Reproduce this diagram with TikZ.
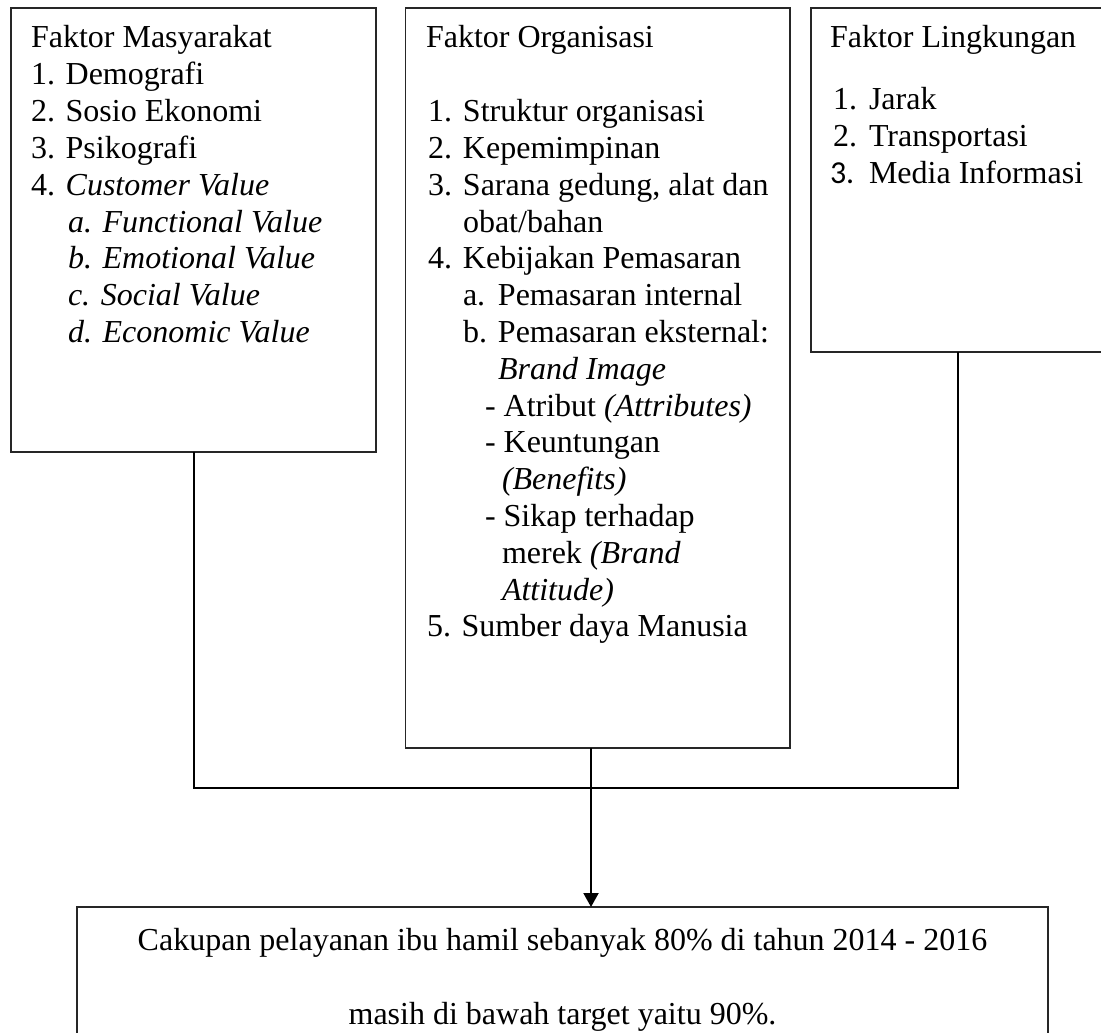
\documentclass[tikz,border=0pt]{standalone}
\usepackage{fontspec}
\setmainfont{Liberation Serif}
\newfontfamily\digitfont{Carlito}
\usetikzlibrary{arrows.meta}
\begin{document}
\begin{tikzpicture}[x=0.5pt,y=-0.5pt,
  box/.style={draw=black!85, line width=0.8pt, inner sep=0pt, outer sep=0pt, anchor=north west},
  txt/.style={anchor=base west, inner sep=0pt, outer sep=0pt, font=\fontsize{16}{18.4}\selectfont},
  conn/.style={draw=black, line width=1pt},
]
\useasboundingbox (0,0) rectangle (1101,1032);
\clip (0,0) rectangle (1101,1032);
\fill[white] (0,0) rectangle (1101,1032);

% boxes
\node[box, minimum width=182.5pt, minimum height=222pt] (b1) at (11,8) {};
\node[box, minimum width=192.25pt, minimum height=370pt] (b2) at (405.5,8) {};
\node[box, minimum width=147pt, minimum height=172pt] (b3) at (811,8) {};
\node[box, minimum width=485.5pt, minimum height=96.5pt] (b4) at (77,907) {};

% Faktor Masyarakat
\node[txt] (m0) at (31,48) {Faktor Masyarakat};
\node[txt] (m1) at (31,84.8) {1. Demografi};
\node[txt] (m2) at (31,121.6) {2. Sosio Ekonomi};
\node[txt] (m3) at (31,158.4) {3. Psikografi};
\node[txt] (m4) at (31,195.2) {4. \textit{Customer Value}};
\node[txt] (m5) at (68,232) {\textit{a. Functional Value}};
\node[txt] (m6) at (68,268.8) {\textit{b. Emotional Value}};
\node[txt] (m7) at (68,305.6) {\textit{c. Social Value}};
\node[txt] (m8) at (68,342.4) {\textit{d. Economic Value}};

% Faktor Organisasi
\node[txt] (o0) at (426,48) {Faktor Organisasi};
\node[txt] (o1) at (428,121.6) {\makebox[17.5pt][l]{1.}Struktur organisasi};
\node[txt] (o2) at (428,158.4) {\makebox[17.5pt][l]{2.}Kepemimpinan};
\node[txt] (o3) at (428,195.2) {\makebox[17.5pt][l]{3.}Sarana gedung, alat dan};
\node[txt] (o3b) at (463,232) {obat/bahan};
\node[txt] (o4) at (428,268.8) {\makebox[17.5pt][l]{4.}Kebijakan Pemasaran};
\node[txt] (o5) at (463,305.6) {\makebox[17.5pt][l]{a.}Pemasaran internal};
\node[txt] (o6) at (463,342.4) {\makebox[17.5pt][l]{b.}Pemasaran eksternal:};
\node[txt] (o7) at (498,379.2) {\textit{Brand Image}};
\node[txt] (o8) at (485,416) {- Atribut \textit{(Attributes)}};
\node[txt] (o9) at (485,452.8) {- Keuntungan};
\node[txt] (o10) at (502,489.6) {\textit{(Benefits)}};
\node[txt] (o11) at (485,526.4) {- Sikap terhadap};
\node[txt] (o12) at (502,563.2) {merek \textit{(Brand}};
\node[txt] (o13) at (502,600) {\textit{Attitude)}};
\node[txt] (o14) at (427,636.8) {5. Sumber daya Manusia};

% Faktor Lingkungan
\node[txt] (l0) at (830,48) {Faktor Lingkungan};
\node[txt] (l1) at (833,110) {\makebox[18pt][l]{1.}Jarak};
\node[txt] (l2) at (833,147) {\makebox[18pt][l]{2.}Transportasi};
\node[txt] (l3) at (830,183.5) {\makebox[19.5pt][l]{\digitfont 3.}Media Informasi};

% result box text
\node[txt, anchor=base] (c1) at (562.5,950) {Cakupan pelayanan ibu hamil sebanyak 80\% di tahun 2014 - 2016};
\node[txt, anchor=base] (c2) at (562.5,1024) {masih di bawah target yaitu 90\%.};

% connectors
\coordinate (hy) at (0,788);
\coordinate (ax) at (591,0);
\draw[conn] (b1.south) -- (b1.south |- hy) -- (b3.south |- hy) -- (b3.south);
\draw[conn, -{Triangle[length=7pt,width=7.5pt]}] (b2.south -| ax) -- (b4.north -| ax);
\end{tikzpicture}
\end{document}
